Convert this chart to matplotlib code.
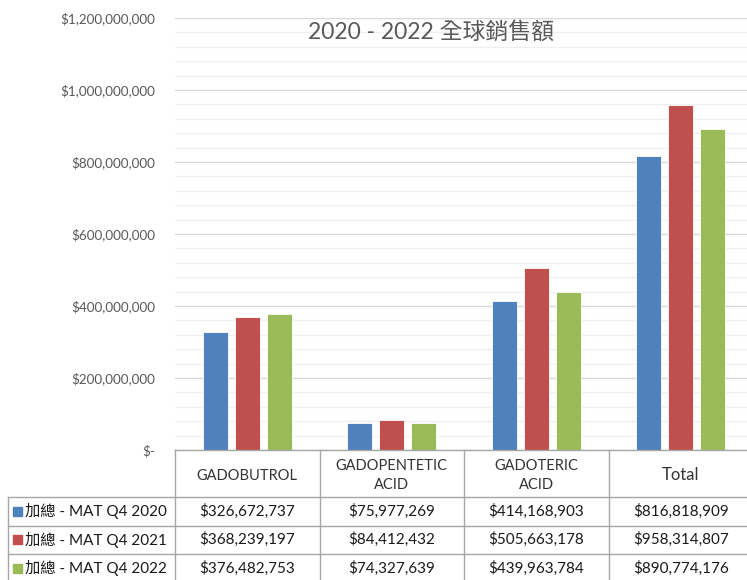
import numpy as np
import matplotlib.pyplot as plt
from matplotlib.lines import Line2D
from matplotlib.patches import Rectangle
from matplotlib.ticker import FuncFormatter, MultipleLocator

plt.rcParams['font.family'] = ['Lato', 'Noto Sans CJK TC', 'DejaVu Sans']

title = '2020 - 2022 全球銷售額'
categories = ['GADOBUTROL', 'GADOPENTETIC\nACID', 'GADOTERIC\nACID', 'Total']
series_names = ['加總 - MAT Q4 2020', '加總 - MAT Q4 2021', '加總 - MAT Q4 2022']
sales_2020 = [326672737, 75977269, 414168903, 816818909]
sales_2021 = [368239197, 84412432, 505663178, 958314807]
sales_2022 = [376482753, 74327639, 439963784, 890774176]
series = [sales_2020, sales_2021, sales_2022]
colors = ['#4F81BD', '#C0504D', '#9BBB59']

W, H = 747, 580
fig = plt.figure(figsize=(W / 100, H / 100), dpi=100)

def fx(px):
    return px / W

def fy(py):
    return 1 - py / H

# plot area: x 175 -> 753 (cut by the image edge), y 18 -> 450
col_w = 144.5
left_px, right_px = 175, W
top_px, bot_px = 18, 450
ax = fig.add_axes([fx(left_px), fy(bot_px), fx(right_px - left_px), (bot_px - top_px) / H])
ax.set_xlim(-0.5, -0.5 + (right_px - left_px) / col_w)
ax.set_ylim(0, 1.2e9)

x = np.arange(len(categories))
offs = [-0.222, 0, 0.222]
for vals, off, c in zip(series, offs, colors):
    ax.bar(x + off, vals, width=0.172, color=c, edgecolor='white', linewidth=0.6, zorder=3)

ax.yaxis.set_major_locator(MultipleLocator(2e8))
ax.yaxis.set_minor_locator(MultipleLocator(4e7))
ax.yaxis.set_major_formatter(FuncFormatter(lambda v, p: '$-' if v == 0 else f'${v:,.0f}'))
ax.grid(axis='y', which='major', color='#d9d9d9', linewidth=1.0, zorder=0)
ax.grid(axis='y', which='minor', color='#f0f0f0', linewidth=1.0, zorder=0)
ax.tick_params(axis='y', which='both', length=0, pad=14.5, labelsize=9.7, labelcolor='#595959')
ax.tick_params(axis='x', length=0, labelbottom=False)
for s in ax.spines.values():
    s.set_visible(False)

fig.text(fx(431), fy(32), title, ha='center', va='center', fontsize=16.5, color='#595959')

# data table below the plot
line_c = '#a6a6a6'
txt_c = '#333333'
hdr_top, hdr_bot = 450, 497
row_h = 28.5
n_rows = len(series)
edges = [left_px + col_w * i for i in range(len(categories) + 1)]

def hline(x0, x1, y):
    fig.add_artist(Line2D([fx(x0), fx(x1)], [fy(y), fy(y)], color=line_c, lw=1.0))

def vline(xp, y0, y1):
    fig.add_artist(Line2D([fx(xp), fx(xp)], [fy(y0), fy(y1)], color=line_c, lw=1.0))

hline(left_px, edges[-1], hdr_top)
hline(8, edges[-1], hdr_bot)
for r in range(1, n_rows + 1):
    hline(8, edges[-1], hdr_bot + row_h * r)
for e in edges:
    vline(e, hdr_top, H + 5)
vline(8, hdr_bot, H + 5)

for i, cat in enumerate(categories):
    cx = (edges[i] + edges[i + 1]) / 2
    fs = 12 if cat == 'Total' else 10.5
    fig.text(fx(cx), fy((hdr_top + hdr_bot) / 2 + 2), cat, ha='center', va='center',
             fontsize=fs, color=txt_c, linespacing=1.5)

for r, (name, vals, c) in enumerate(zip(series_names, series, colors)):
    cy = hdr_bot + row_h * (r + 0.5)
    fig.add_artist(Rectangle((fx(13), fy(cy + 4.5)), fx(9), 9 / H, color=c))
    fig.text(fx(25), fy(cy), name, ha='left', va='center', fontsize=11, color='#1a1a1a')
    for i, v in enumerate(vals):
        cx = (edges[i] + edges[i + 1]) / 2
        fig.text(fx(cx), fy(cy), f'${v:,.0f}', ha='center', va='center',
                 fontsize=11, color='#1a1a1a')

fig.savefig('out.png', dpi=100)
